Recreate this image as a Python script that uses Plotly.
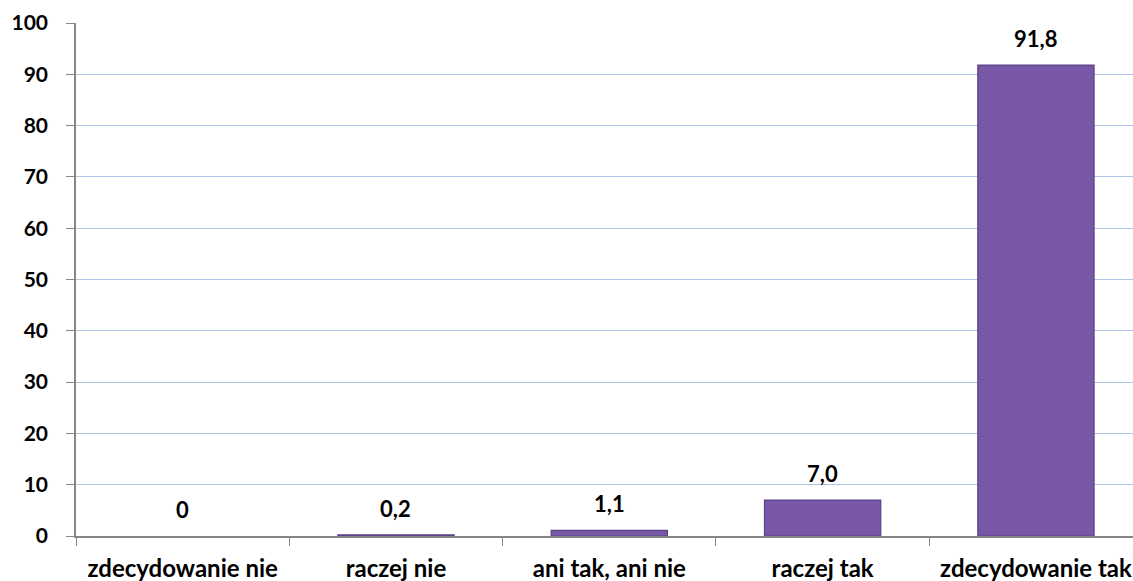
import plotly.graph_objects as go

# Survey answers and their percentage shares
categories = ["zdecydowanie nie", "raczej nie", "ani tak, ani nie", "raczej tak", "zdecydowanie tak"]
values = [0, 0.2, 1.1, 7.0, 91.8]
labels = ["0", "0,2", "1,1", "7,0", "91,8"]
y_ticks = [0, 10, 20, 30, 40, 50, 60, 70, 80, 90, 100]

FONT = "Lato"
W, H = 1133, 581
ML, MT, MB = 76, 23, 45

fig = go.Figure()
fig.add_trace(go.Bar(
    x=categories,
    y=values,
    width=0.545,
    marker=dict(
        color="#7858a6",
        line=dict(color=["rgba(0,0,0,0)" if v == 0 else "#5b4186" for v in values], width=1.2),
    ),
    hoverinfo="x+y",
))

# Value labels above each bar
for cat, val, lab in zip(categories, values, labels):
    fig.add_annotation(
        x=cat, y=val, text=f"<b>{lab}</b>",
        showarrow=False, yanchor="bottom", yshift=11,
        font=dict(family=FONT, size=22, color="#000000"),
    )

fig.update_layout(
    width=W,
    height=H,
    margin=dict(l=ML, r=0, t=MT, b=MB),
    paper_bgcolor="#ffffff",
    plot_bgcolor="#ffffff",
    showlegend=False,
    font=dict(family=FONT, size=20, color="#000000"),
)
fig.update_xaxes(
    range=[-0.5, 4.455],
    showgrid=False,
    showline=True,
    linecolor="#868686",
    linewidth=1.5,
    ticks="outside",
    tickson="boundaries",
    ticklen=8,
    tickcolor="#868686",
    tickfont=dict(family=FONT, size=24, color="#000000", weight="bold"),
    ticklabelstandoff=10,
    fixedrange=True,
)
fig.update_yaxes(
    range=[0, 100],
    tickvals=y_ticks,
    showgrid=True,
    gridcolor="#b0c4e8",
    gridwidth=1.2,
    zeroline=False,
    showline=True,
    linecolor="#868686",
    linewidth=1.5,
    ticks="outside",
    ticklen=8,
    tickcolor="#868686",
    tickfont=dict(family=FONT, size=21, color="#000000", weight="bold"),
    ticklabelstandoff=14,
    fixedrange=True,
)

fig.write_html("out.html", config={"displayModeBar": False})
